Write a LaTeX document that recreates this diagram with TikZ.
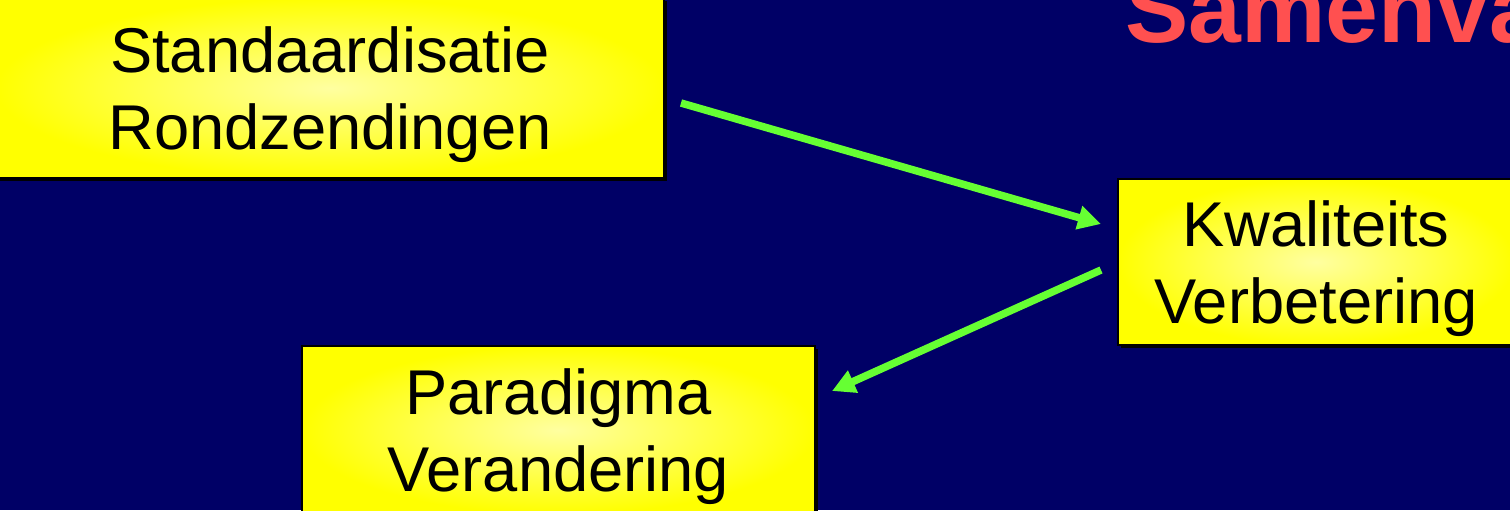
\documentclass[tikz,border=0pt]{standalone}
\usepackage{fontspec}
\setmainfont{Liberation Sans}
\usetikzlibrary{arrows.meta,shadows}
\definecolor{slidenavy}{RGB}{0,0,102}
\definecolor{arrowgreen}{RGB}{102,255,51}
\definecolor{titlered}{RGB}{255,80,80}
\definecolor{paleyellow}{RGB}{255,255,160}

\begin{document}
\begin{tikzpicture}[
  box/.style={rectangle, draw=black, line width=0.02cm, inner color=paleyellow, outer color=yellow,
    drop shadow={shadow xshift=0.025cm, shadow yshift=-0.025cm, fill=black, opacity=1},
    align=center, text depth=0pt, font=\fontsize{18}{22}\selectfont},
  link/.style={arrowgreen, line width=0.075cm, -{Triangle[length=0.23cm, width=0.23cm]}}]
  \useasboundingbox (0,0) rectangle (15.1,-5.1);
  \clip (0,0) rectangle (15.1,-5.1);
  \fill[slidenavy] (0,0) rectangle (15.1,-5.1);
  \node[anchor=base west, text=titlered, font=\fontsize{27}{32}\selectfont\bfseries] (title) at (11.13,-0.42) {Samenvatting};
  \node[box, minimum width=6.68cm, minimum height=1.80cm] (std) at (3.30,-0.88) {Standaardisatie\\Rondzendingen};
  \node[box, minimum width=3.96cm, minimum height=1.66cm] (kwal) at (13.16,-2.62) {Kwaliteits\\Verbetering};
  \node[box, minimum width=5.13cm, minimum height=1.68cm] (para) at (5.585,-4.30) {Paradigma\\Verandering};
  \draw[link] ([shift={(0.16,-0.15)}]std.east) -- ([shift={(-0.16,0.38)}]kwal.west);
  \draw[link] ([shift={(-0.16,-0.08)}]kwal.west) -- ([shift={(0.16,0.39)}]para.east);
\end{tikzpicture}
\end{document}
